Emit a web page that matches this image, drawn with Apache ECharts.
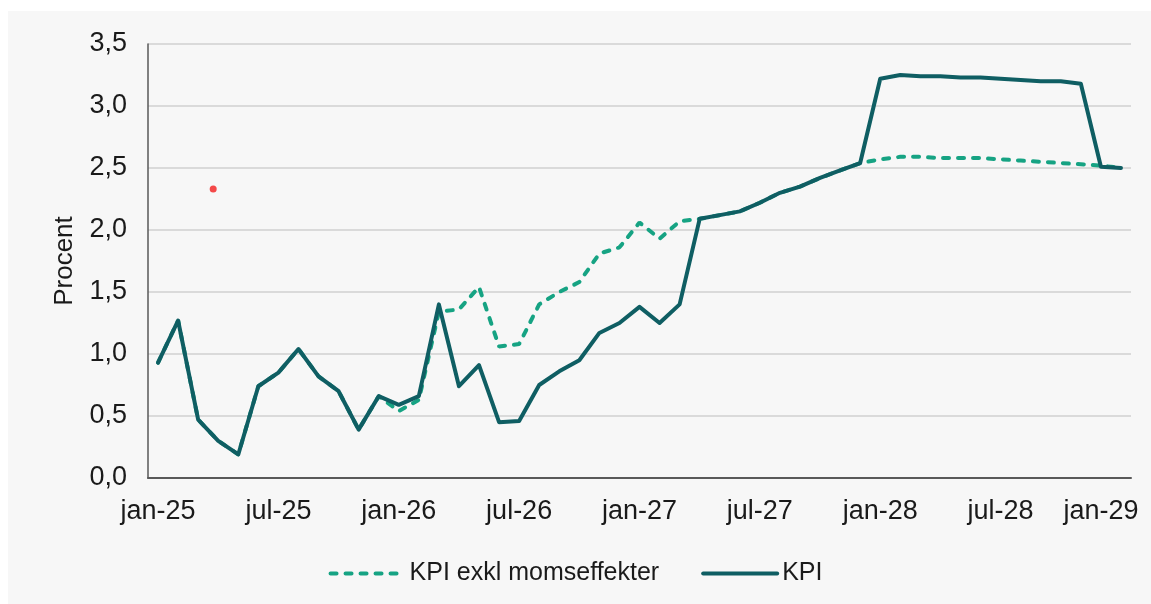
<!DOCTYPE html>
<html>
<head>
<meta charset="utf-8">
<title>KPI</title>
<script src="https://cdn.jsdelivr.net/npm/echarts@6.0.0/dist/echarts.min.js"></script>
<style>
    html, body {margin:0; padding:0; background:#ffffff;}
    #chart {width:1151px; height:604px;}
</style>
</head>
<body>
<div id="chart"></div>
<script>
// månader och år för kategorierna
var months = ["jan","feb","mar","apr","maj","jun","jul","aug","sep","okt","nov","dec"];
var years = ["25","26","27","28","29"];

// KPI, årlig förändring i procent
var kpi = [0.93,1.27,0.47,0.30,0.19,0.74,0.85,1.04,0.82,0.70,0.39,0.66,
    0.59,0.66,1.40,0.74,0.91,0.45,0.46,0.75,0.86,0.95,1.17,1.25,
    1.38,1.25,1.40,2.09,2.12,2.15,2.22,2.30,2.35,2.42,2.48,2.54,
    3.22,3.25,3.24,3.24,3.23,3.23,3.22,3.21,3.20,3.20,3.18,2.51,
    2.50];

// KPI exkl momseffekter
var kpiExkl = [0.93,1.27,0.47,0.30,0.19,0.74,0.85,1.04,0.82,0.70,0.39,0.66,
    0.54,0.63,1.34,1.36,1.54,1.06,1.08,1.40,1.50,1.58,1.81,1.86,
    2.06,1.93,2.07,2.09,2.12,2.15,2.22,2.30,2.35,2.42,2.48,2.54,
    2.57,2.59,2.59,2.58,2.58,2.58,2.57,2.56,2.55,2.54,2.53,2.52,
    2.50];

// lös röd punkt i bilden (månadsindex, procent)
var strayDot = [[2.75, 2.33]];

var yTicks = {min: 0, max: 3.5, interval: 0.5};

var categories = [];
for (var y = 0; y < years.length; y++) {
    for (var m = 0; m < months.length; m++) {
        categories.push(months[m] + "-" + years[y]);
        if (y == years.length - 1) break;
    }
}

var myChart = echarts.init(document.getElementById("chart"));

var option = {
    animation: false,
    textStyle: {fontFamily: "Liberation Sans, Arial, sans-serif"},
    graphic: [{
        type: "rect",
        z: -10,
        silent: true,
        shape: {x: 8, y: 11, width: 1143, height: 593},
        style: {fill: "#f7f7f7"}
    }],
    grid: {left: 148, right: 20, top: 44, bottom: 126, outerBoundsMode: "none"},
    legend: {
        left: "center",
        top: 556,
        itemWidth: 74,
        itemHeight: 14,
        itemGap: 42,
        itemStyle: {opacity: 0},
        lineStyle: {width: 4},
        textStyle: {fontSize: 25, color: "#1a1a1a"},
        data: ["KPI exkl momseffekter", "KPI"]
    },
    xAxis: [{
        type: "category",
        data: categories,
        boundaryGap: true,
        axisLine: {lineStyle: {color: "#595959", width: 2}},
        axisTick: {show: false},
        axisLabel: {
            interval: 5,
            margin: 20,
            fontSize: 27,
            color: "#1a1a1a",
            formatter: function (value, index) {
                if (index == categories.length - 1) return "{last|" + value + "}";
                return value;
            },
            rich: {last: {fontSize: 27, color: "#1a1a1a", padding: [0, 40, 0, 0]}}
        }
    }, {
        // dold värdeaxel som följer kategoriernas mittpunkter
        type: "value",
        show: false,
        min: -0.5,
        max: categories.length - 0.5
    }],
    yAxis: {
        type: "value",
        min: yTicks.min,
        max: yTicks.max,
        interval: yTicks.interval,
        name: "Procent",
        nameLocation: "middle",
        nameRotate: 90,
        nameGap: 70,
        nameTextStyle: {fontSize: 26, color: "#1a1a1a"},
        axisLine: {show: true, onZero: false, lineStyle: {color: "#595959", width: 1.5}},
        axisTick: {show: false},
        splitLine: {lineStyle: {color: "#d0d0d0", width: 1.5}},
        axisLabel: {
            margin: 21,
            fontSize: 27,
            color: "#1a1a1a",
            formatter: function (v) { return v.toFixed(1).replace(".", ","); }
        }
    },
    series: [
        {
            name: "KPI exkl momseffekter",
            type: "line",
            data: kpiExkl,
            symbol: "none",
            z: 2,
            itemStyle: {color: "#16a383"},
            lineStyle: {color: "#16a383", width: 4, type: [6, 9], cap: "round"}
        },
        {
            name: "KPI",
            type: "line",
            data: kpi,
            symbol: "none",
            z: 3,
            itemStyle: {color: "#0f5e63"},
            lineStyle: {color: "#0f5e63", width: 4, cap: "round", join: "round"}
        },
        {
            name: "punkt",
            type: "scatter",
            xAxisIndex: 1,
            data: strayDot,
            symbolSize: 7,
            z: 4,
            itemStyle: {color: "#f21d1d"}
        }
    ]
};

myChart.setOption(option);
</script>
</body>
</html>
